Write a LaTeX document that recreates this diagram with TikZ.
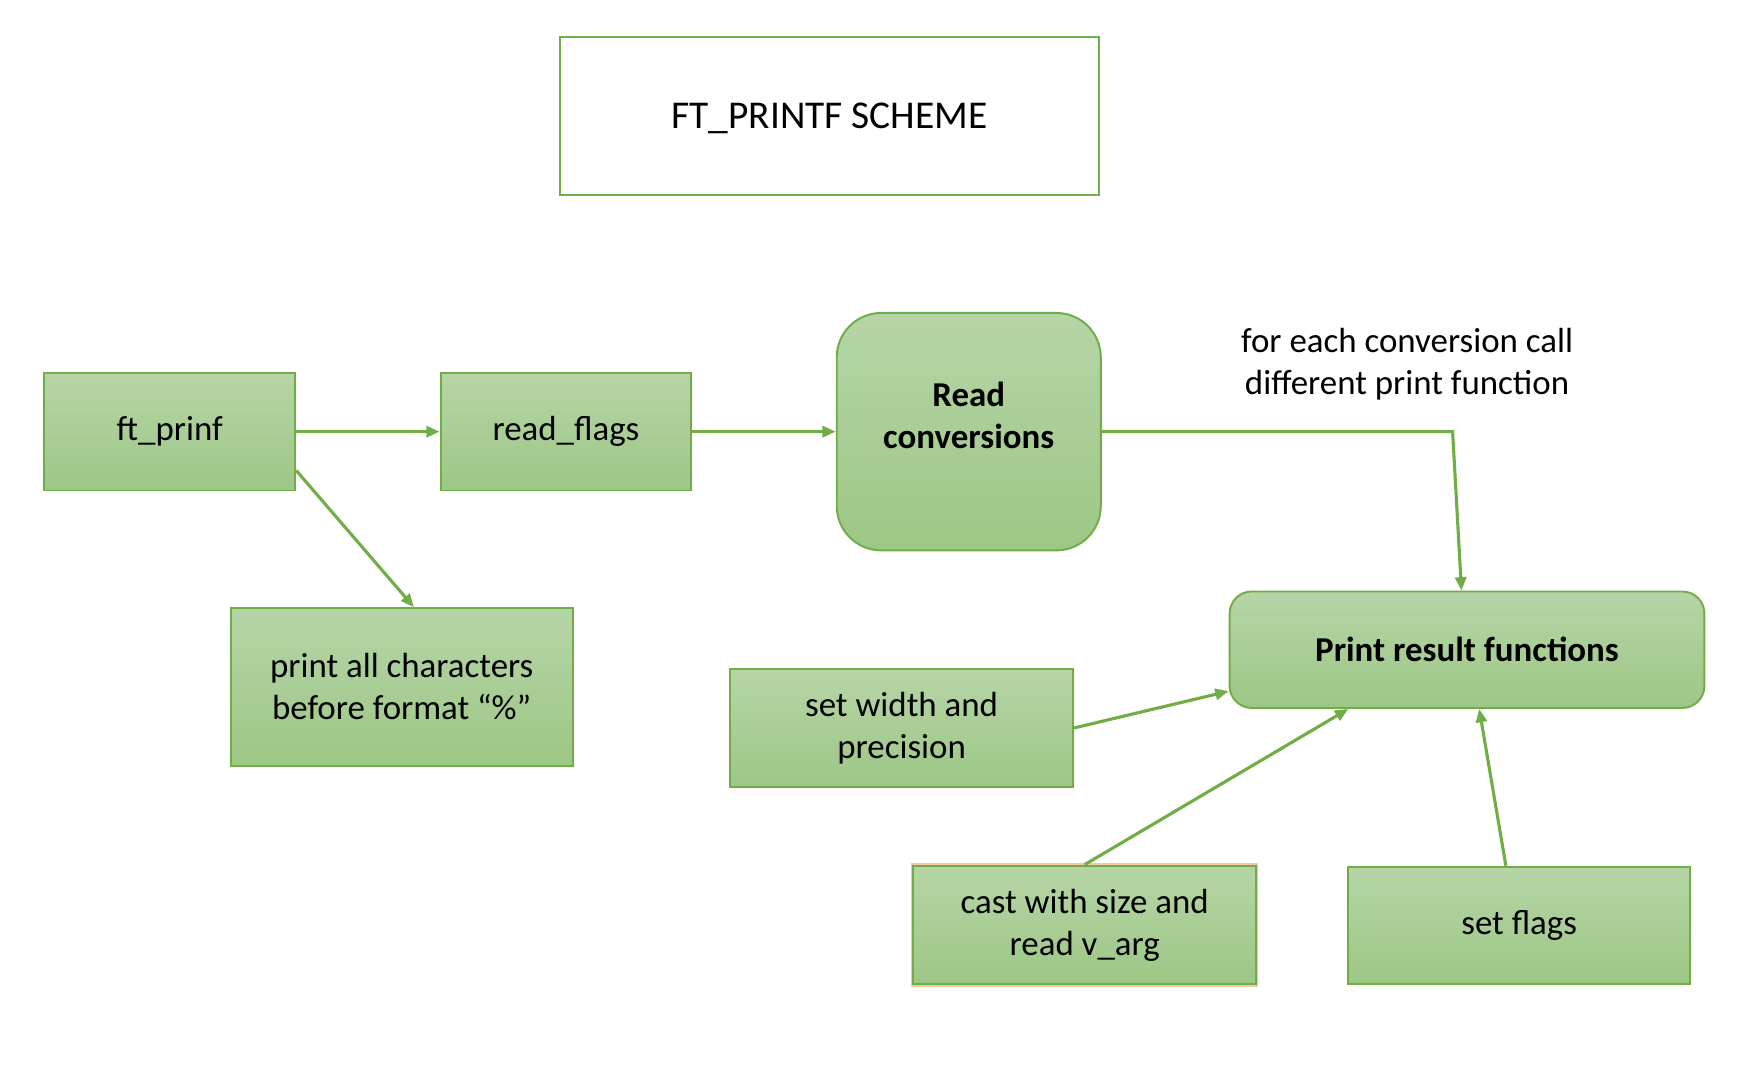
\documentclass[tikz,border=0pt]{standalone}
\usepackage{fontspec}
\setmainfont{Carlito}
\usetikzlibrary{arrows.meta, calc}
\definecolor{lineGreen}{HTML}{70AD47}
\definecolor{fillTop}{HTML}{B6D5A7}
\definecolor{fillBottom}{HTML}{9DC785}
\definecolor{peachColor}{HTML}{F4C7AA}

\begin{document}
\begin{tikzpicture}[x=0.02cm, y=-0.02cm, >={Triangle[length=0.24cm, width=0.2cm]},
	font=\fontsize{17.9}{21.6}\selectfont,
	stepbox/.style={draw=lineGreen, line width=1pt, top color=fillTop, bottom color=fillBottom, align=center, inner sep=0pt},
	flow/.style={->, draw=lineGreen, line width=1.6pt}]
		
		% --- 1. Canvas ---
		\useasboundingbox (0,0) rectangle (1568,966);
		
		% --- 2. Title ---
		\node[draw=lineGreen, line width=1pt, fill=white, minimum width=9.7cm, minimum height=2.86cm, text depth=0pt, font=\fontsize{20.2}{24}\selectfont] (title) at (747.5,104.5) {FT\_PRINTF SCHEME};
		
		% --- 3. Main chain ---
		\node[stepbox, minimum width=4.52cm, minimum height=2.12cm] (ftprinf) at (153,389) {ft\_prinf};
		\node[stepbox, minimum width=4.52cm, minimum height=2.12cm] (readflags) at (510,389) {read\_flags};
		\node[stepbox, rounded corners=0.8cm, minimum width=4.76cm, minimum height=4.28cm, text depth=0.6cm, font=\fontsize{17.9}{21.6}\selectfont\bfseries] (readconv) at (873,389) {Read\\conversions};
		\node[stepbox, minimum width=6.16cm, minimum height=2.84cm] (printall) at (362,619) {print all characters\\before format “\%”};
		
		% --- 4. Print side ---
		\node[stepbox, rounded corners=0.4cm, minimum width=8.56cm, minimum height=2.1cm, font=\fontsize{17.9}{21.6}\selectfont\bfseries] (printres) at (1322,585.5) {Print result functions};
		\node[stepbox, minimum width=6.18cm, minimum height=2.12cm] (setwidth) at (812.5,656) {set width and\\precision};
		\node[stepbox, preaction={draw=peachColor, line width=2.4pt}, minimum width=6.18cm, minimum height=2.14cm] (cast) at (977.5,833.5) {cast with size and\\read v\_arg};
		\node[stepbox, minimum width=6.16cm, minimum height=2.12cm] (setflags) at (1369,834) {set flags};
		
		% Note on the conversion branch
		\node[align=center] (note) at (1268,328) {for each conversion call\\different print function};
		
		% --- 5. Connectors ---
		\coordinate (bend) at (1309,389);
		\draw[flow] (ftprinf.east) -- (readflags.west);
		\draw[flow] (readflags.east) -- (readconv.west);
		\draw[flow] ($(ftprinf.south east)+(0,-19)$) -- ($(printall.north)+(11,0)$);
		\draw[flow] (readconv.east) -- (bend) -- ($(printres.north)+(-5,0)$);
		\draw[flow] (setwidth.east) -- ($(printres.south west)+(0,-16)$);
		\draw[flow] (cast.north) -- ($(printres.south)+(-107,0)$);
		\draw[flow] ($(setflags.north)+(-12,0)$) -- ($(printres.south)+(11,0)$);
		
	\end{tikzpicture}
\end{document}
